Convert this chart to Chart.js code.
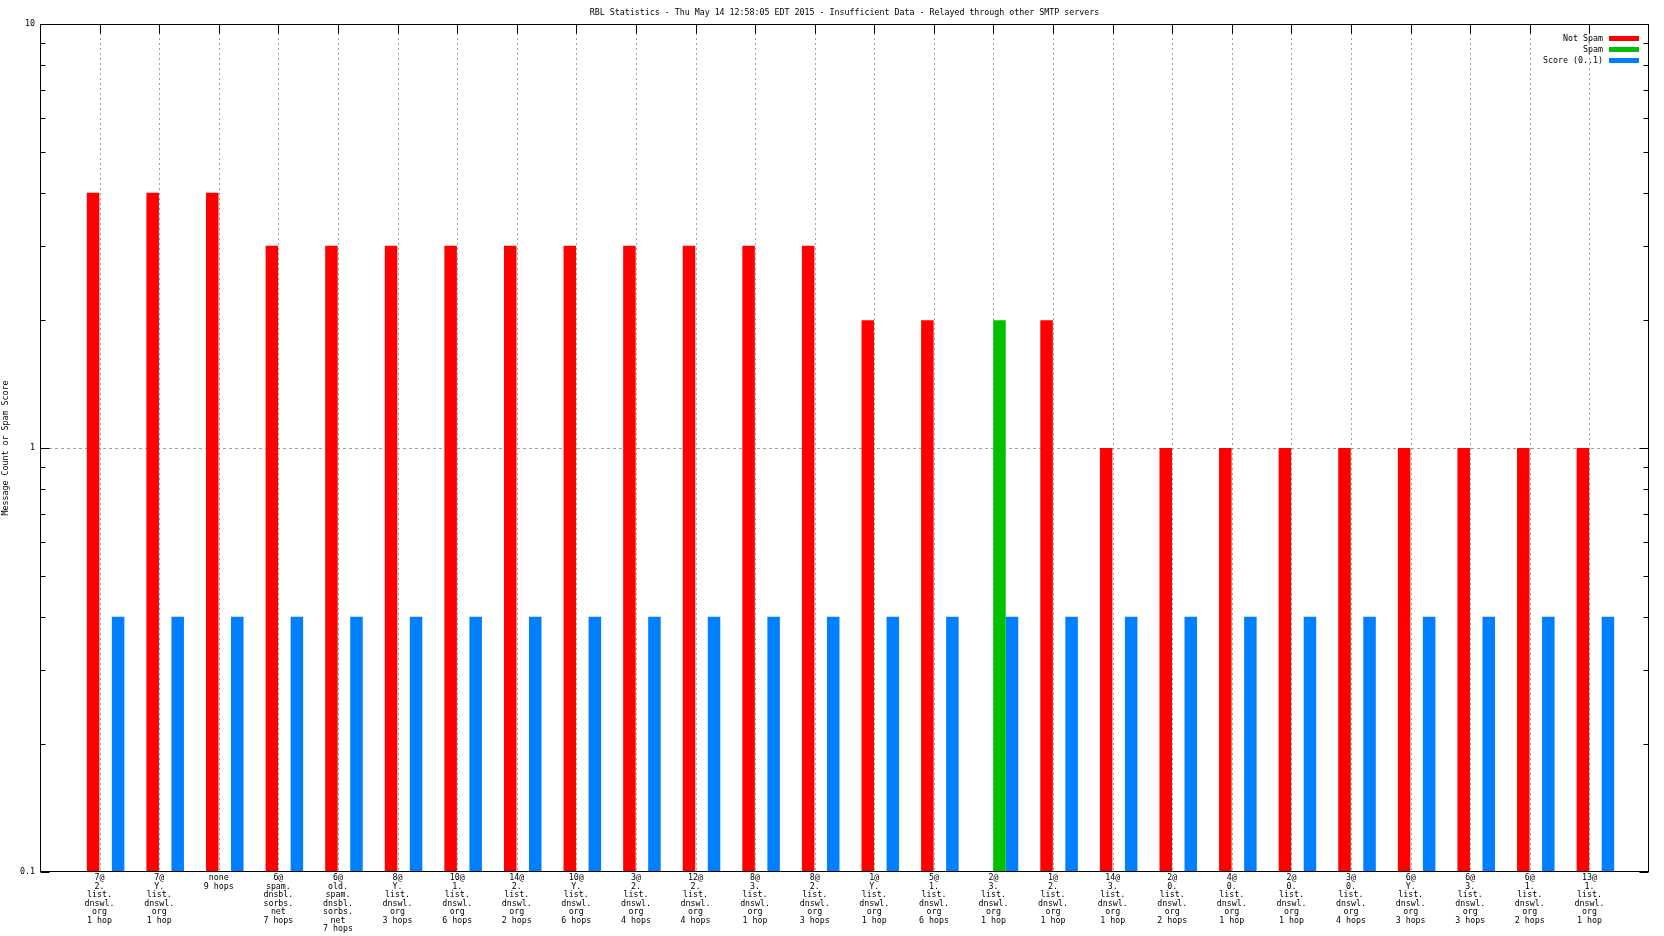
<!DOCTYPE html>
<html>
<head>
<meta charset="utf-8">
<title>RBL Statistics</title>
<script src="https://cdn.jsdelivr.net/npm/chart.js@4/dist/chart.umd.min.js"></script>
<style>
  html, body { margin: 0; padding: 0; background: #fff; }
  #wrap { width: 1664px; height: 936px; position: relative; }
</style>
</head>
<body>
<div id="wrap"><canvas id="rbl-chart"></canvas></div>
<script>
// Chart data
const titleText = 'RBL Statistics - Thu May 14 12:58:05 EDT 2015 - Insufficient Data - Relayed through other SMTP servers';
const yAxisTitle = 'Message Count or Spam Score';

const categories = [
  ['7@', '2.', 'list.', 'dnswl.', 'org', '1 hop'],
  ['7@', 'Y.', 'list.', 'dnswl.', 'org', '1 hop'],
  ['none', '9 hops'],
  ['6@', 'spam.', 'dnsbl.', 'sorbs.', 'net', '7 hops'],
  ['6@', 'old.', 'spam.', 'dnsbl.', 'sorbs.', 'net', '7 hops'],
  ['8@', 'Y.', 'list.', 'dnswl.', 'org', '3 hops'],
  ['10@', '1.', 'list.', 'dnswl.', 'org', '6 hops'],
  ['14@', '2.', 'list.', 'dnswl.', 'org', '2 hops'],
  ['10@', 'Y.', 'list.', 'dnswl.', 'org', '6 hops'],
  ['3@', '2.', 'list.', 'dnswl.', 'org', '4 hops'],
  ['12@', '2.', 'list.', 'dnswl.', 'org', '4 hops'],
  ['8@', '3.', 'list.', 'dnswl.', 'org', '1 hop'],
  ['8@', '2.', 'list.', 'dnswl.', 'org', '3 hops'],
  ['1@', 'Y.', 'list.', 'dnswl.', 'org', '1 hop'],
  ['5@', '1.', 'list.', 'dnswl.', 'org', '6 hops'],
  ['2@', '3.', 'list.', 'dnswl.', 'org', '1 hop'],
  ['1@', '2.', 'list.', 'dnswl.', 'org', '1 hop'],
  ['14@', '3.', 'list.', 'dnswl.', 'org', '1 hop'],
  ['2@', '0.', 'list.', 'dnswl.', 'org', '2 hops'],
  ['4@', '0.', 'list.', 'dnswl.', 'org', '1 hop'],
  ['2@', '0.', 'list.', 'dnswl.', 'org', '1 hop'],
  ['3@', '0.', 'list.', 'dnswl.', 'org', '4 hops'],
  ['6@', 'Y.', 'list.', 'dnswl.', 'org', '3 hops'],
  ['6@', '3.', 'list.', 'dnswl.', 'org', '3 hops'],
  ['6@', '1.', 'list.', 'dnswl.', 'org', '2 hops'],
  ['13@', '1.', 'list.', 'dnswl.', 'org', '1 hop']
];

const notSpam = [4, 4, 4, 3, 3, 3, 3, 3, 3, 3, 3, 3, 3, 2, 2, null, 2, 1, 1, 1, 1, 1, 1, 1, 1, 1];
const spam = [null, null, null, null, null, null, null, null, null, null, null, null, null, null, null, 2,
  null, null, null, null, null, null, null, null, null, null];
const score = [0.4, 0.4, 0.4, 0.4, 0.4, 0.4, 0.4, 0.4, 0.4, 0.4, 0.4, 0.4, 0.4,
  0.4, 0.4, 0.4, 0.4, 0.4, 0.4, 0.4, 0.4, 0.4, 0.4, 0.4, 0.4, 0.4];

const yTickLabels = ['0.1', '1', '10'];
const seriesNames = ['Not Spam', 'Spam', 'Score (0..1)'];
const seriesColors = ['#ff0000', '#00c000', '#0080ff'];

// Look
const FONT = '"DejaVu Sans Mono", monospace';
const FONT_SIZE = 8.3;
const BAR_SHIFT = 6; // gnuplot puts the cluster right of the tic

// empty slot at each end, like the gnuplot xrange
const pad = arr => [null, ...arr, null];
const seriesData = [notSpam, spam, score];

// Frame, tics, grid, title and legend drawn gnuplot style
const gnuplotFrame = {
  id: 'gnuplotFrame',
  beforeDatasetsDraw(chart) {
    const { ctx, chartArea: a, scales: { x, y } } = chart;
    const n = chart.data.labels.length;

    ctx.save();
    ctx.lineWidth = 1;
    ctx.strokeStyle = '#a0a0a0';

    // dotted vertical grid on each category
    ctx.setLineDash([2, 3]);
    for (let i = 1; i < n - 1; i++) {
      const px = Math.round(x.getPixelForTick(i)) + 0.5;
      ctx.beginPath();
      ctx.moveTo(px, a.top + 9);
      ctx.lineTo(px, a.bottom);
      ctx.stroke();
    }

    // dashed horizontal grid at the major tic
    ctx.setLineDash([3, 3]);
    const py = Math.round(y.getPixelForValue(1)) + 0.5;
    ctx.beginPath();
    ctx.moveTo(a.left + 9, py);
    ctx.lineTo(a.right - 9, py);
    ctx.stroke();
    ctx.restore();

    // shift the bar clusters
    ctx.save();
    ctx.translate(BAR_SHIFT, 0);
  },
  afterDatasetsDraw(chart) {
    const { ctx, chartArea: a, scales: { x, y } } = chart;
    const n = chart.data.labels.length;
    ctx.restore();

    ctx.save();
    ctx.strokeStyle = '#000';
    ctx.lineWidth = 1;
    ctx.setLineDash([]);

    const left = Math.round(a.left) + 0.5;
    const right = Math.round(a.right) - 0.5;
    const top = Math.round(a.top) + 0.5;
    const bottom = Math.round(a.bottom) - 0.5;
    ctx.strokeRect(left, top, right - left, bottom - top);

    // log tics on left and right border
    ctx.beginPath();
    [0.1, 1].forEach(decade => {
      for (let k = 1; k <= 9; k++) {
        const py = Math.round(y.getPixelForValue(decade * k)) + 0.5;
        const len = k === 1 ? 9 : 5;
        ctx.moveTo(left, py); ctx.lineTo(left + len, py);
        ctx.moveTo(right, py); ctx.lineTo(right - len, py);
      }
    });
    // x tics on the top border
    for (let i = 1; i < n - 1; i++) {
      const px = Math.round(x.getPixelForTick(i)) + 0.5;
      ctx.moveTo(px, top); ctx.lineTo(px, top + 9);
    }
    ctx.stroke();

    // title
    ctx.fillStyle = '#000';
    ctx.font = FONT_SIZE + 'px ' + FONT;
    ctx.textAlign = 'center';
    ctx.textBaseline = 'middle';
    ctx.fillText(titleText, (a.left + a.right) / 2, 13);

    // legend, top right inside the plot
    ctx.textAlign = 'right';
    chart.data.datasets.forEach((ds, i) => {
      const rowY = a.top + 14.5 + i * 11;
      const sampleEnd = a.right - 10;
      ctx.fillStyle = '#000';
      ctx.fillText(ds.label, sampleEnd - 36, rowY);
      ctx.fillStyle = ds.backgroundColor;
      ctx.fillRect(sampleEnd - 30, rowY - 2.5, 30, 5);
    });
    ctx.restore();
  }
};

const ctx = document.getElementById('rbl-chart').getContext('2d');
const rblChart = new Chart(ctx, {
  type: 'bar',
  data: {
    labels: ['', ...categories, ''],
    datasets: seriesNames.map((name, i) => ({
      label: name,
      data: pad(seriesData[i]),
      backgroundColor: seriesColors[i],
      borderWidth: 0,
      categoryPercentage: 0.63,
      barPercentage: 1
    }))
  },
  options: {
    responsive: true,
    maintainAspectRatio: false,
    animation: false,
    layout: { padding: { top: 24, right: 15, left: 0, bottom: 0 } },
    plugins: {
      legend: { display: false },
      title: { display: false },
      tooltip: { enabled: false }
    },
    scales: {
      x: {
        type: 'category',
        offset: false,
        grid: { display: false, drawTicks: false },
        border: { display: false },
        ticks: {
          autoSkip: false,
          maxRotation: 0,
          minRotation: 0,
          padding: 2,
          color: '#000',
          font: { family: FONT, size: FONT_SIZE, lineHeight: '8.5px' }
        },
        afterFit(scale) { scale.height = 64; }
      },
      y: {
        type: 'logarithmic',
        min: 0.1,
        max: 10,
        grid: { display: false, drawTicks: false },
        border: { display: false },
        title: {
          display: true,
          text: yAxisTitle,
          color: '#000',
          font: { family: FONT, size: FONT_SIZE, lineHeight: '8px' },
          padding: { top: 2, bottom: 0 }
        },
        ticks: {
          autoSkip: false,
          padding: 5,
          color: '#000',
          font: { family: FONT, size: FONT_SIZE },
          callback(value) {
            const label = yTickLabels.find(t => Math.abs(parseFloat(t) - value) < 1e-6);
            return label || '';
          }
        },
        afterFit(scale) { scale.width = 40; }
      }
    }
  },
  plugins: [gnuplotFrame]
});
</script>
</body>
</html>
